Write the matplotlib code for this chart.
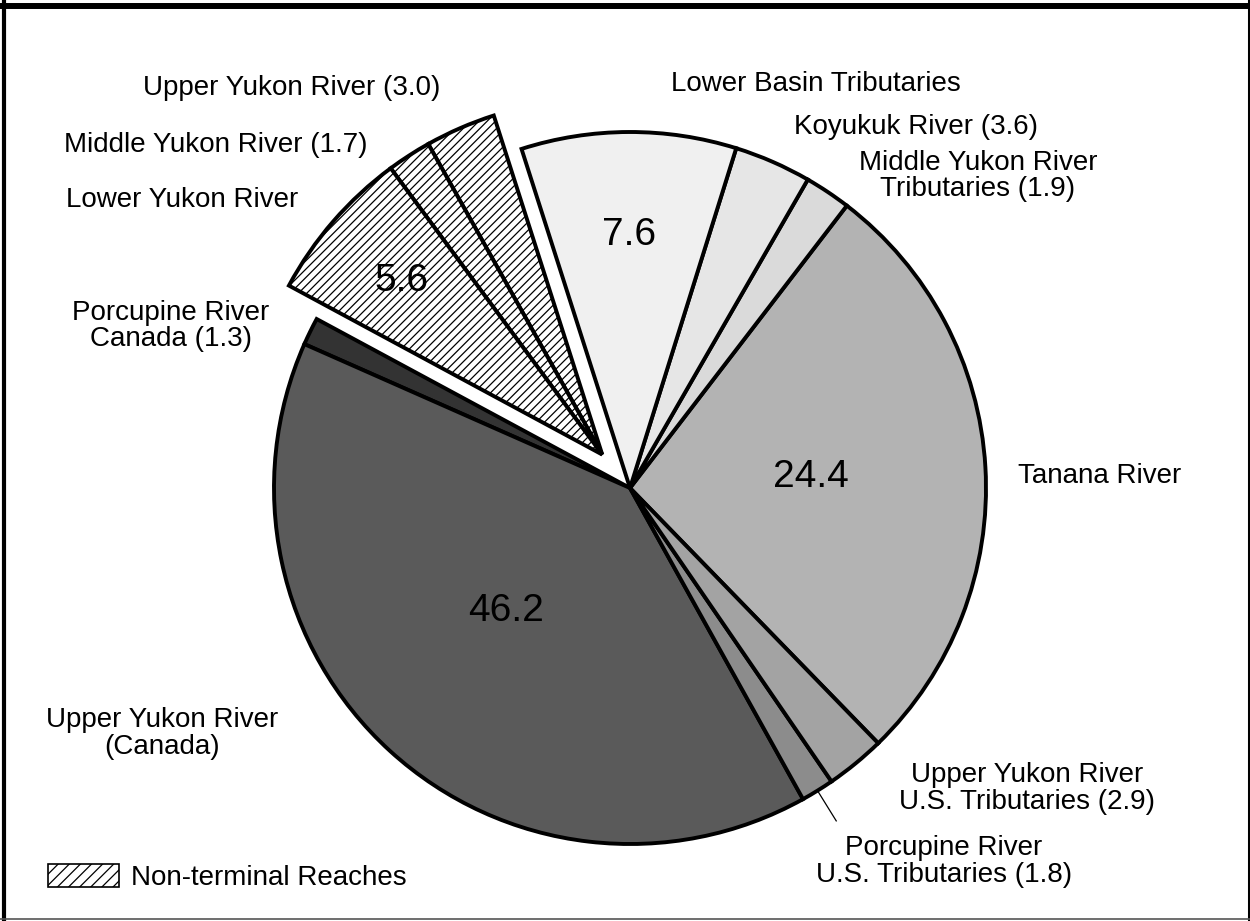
import numpy as np
import matplotlib
matplotlib.use("Agg")
import matplotlib.pyplot as plt
from matplotlib.patches import Patch

plt.rcParams['font.family'] = ['Liberation Sans', 'DejaVu Sans']
plt.rcParams['hatch.linewidth'] = 0.9

# wedges, counter-clockwise starting at the Tanana River wedge
reaches = ["Tanana River", "Middle Yukon River Tributaries", "Koyukuk River",
           "Lower Basin Tributaries", "Upper Yukon River", "Middle Yukon River",
           "Lower Yukon River", "Porcupine River Canada", "Upper Yukon River (Canada)",
           "Porcupine River U.S. Tributaries", "Upper Yukon River U.S. Tributaries"]
# percentages printed on the chart
shown_pct = [24.4, 1.9, 3.6, 7.6, 3.0, 1.7, 5.6, 1.3, 46.2, 1.8, 2.9]
# share of the circle each wedge takes in the drawing (read off the wedge angles,
# the original is not drawn to scale with the printed numbers)
wedge_pct = [27.3, 2.1, 3.5, 9.75, 3.2, 2.0, 7.0, 1.25, 39.7, 1.5, 2.7]
non_terminal = [False, False, False, False, True, True, True, False, False, False, False]
grays = ["#b3b3b3", "#dadada", "#e6e6e6", "#f0f0f0", "white", "white", "white",
         "#333333", "#5a5a5a", "#8c8c8c", "#a3a3a3"]

outer_labels = ["Upper Yukon River (3.0)", "Middle Yukon River (1.7)", "Lower Yukon River",
                "Porcupine River\nCanada (1.3)", "Lower Basin Tributaries",
                "Koyukuk River (3.6)", "Middle Yukon River\nTributaries (1.9)",
                "Tanana River", "Upper Yukon River\nU.S. Tributaries (2.9)",
                "Porcupine River\nU.S. Tributaries (1.8)", "Upper Yukon River\n(Canada)"]

W, H = 1250, 921
# layout in pixels (y measured from top)
label_pos = [(292, 88), (216, 145), (182, 200), (171, 326), (816, 84), (916, 127),
             (978, 176), (1100, 476), (1027, 788), (944, 861), (162, 733)]
# wedge index -> (radial spot, angle nudge in degrees) of the printed number
inner_spot = {0: (0.51, 0), 3: (0.71, 0), 6: (0.745, 0), 8: (0.49, -3)}
cx, cy, R = 630, H - 488, 356


def px(x, y):
    return x, H - y


fig = plt.figure(figsize=(12.5, 9.21), dpi=100)
ax = fig.add_axes([0, 0, 1, 1])

wedges, _ = ax.pie(wedge_pct, startangle=-45.8, counterclock=True, center=(cx, cy),
                   radius=R, colors=grays,
                   wedgeprops=dict(edgecolor="black", linewidth=2.8))
ax.set_xlim(0, W)
ax.set_ylim(0, H)
ax.set_aspect("auto")
ax.axis("off")

# the non-terminal reaches are pulled out together along their common mid angle
idx = [i for i, f in enumerate(non_terminal) if f]
mid = np.deg2rad((wedges[idx[0]].theta1 + wedges[idx[-1]].theta2) / 2)
shift = 0.122 * R
for i in idx:
    wedges[i].set_hatch("////")
    wedges[i].set_center((cx + shift * np.cos(mid), cy + shift * np.sin(mid)))

for i, (r, nudge) in inner_spot.items():
    w = wedges[i]
    a = np.deg2rad((w.theta1 + w.theta2) / 2 + nudge)
    x0, y0 = w.center
    ax.text(x0 + r * R * np.cos(a), y0 + r * R * np.sin(a), f"{shown_pct[i]}",
            ha="center", va="center", fontsize=28)

for txt, (x, y) in zip(outer_labels, label_pos):
    ax.text(*px(x, y), txt, ha="center", va="center", fontsize=20,
            multialignment="center", linespacing=1.05)

# leader line for the Porcupine U.S. wedge
w = wedges[9]
a = np.deg2rad((w.theta1 + w.theta2) / 2)
ax.plot([cx + 1.0 * R * np.cos(a), cx + 1.1 * R * np.cos(a)],
        [cy + 1.0 * R * np.sin(a), cy + 1.1 * R * np.sin(a)], color="black", lw=0.9)

leg = fig.legend(handles=[Patch(facecolor="white", edgecolor="black", hatch="///", lw=1.2)],
                 labels=["Non-terminal Reaches"], loc="lower left",
                 bbox_to_anchor=(48 / W, 30 / H), frameon=False, fontsize=20,
                 handlelength=2.55, handleheight=0.9, handletextpad=0.43,
                 borderpad=0, borderaxespad=0)

# page frame
ax.plot(*zip(px(0, 6.5), px(W, 6.5)), color="black", lw=4.3, clip_on=False)
ax.plot(*zip(px(4, 0), px(4, H)), color="black", lw=3, clip_on=False)
ax.plot(*zip(px(W - 1.5, 0), px(W - 1.5, H)), color="black", lw=2.2, clip_on=False)
ax.plot(*zip(px(0, 919), px(W, 919)), color="#555555", lw=1.2, clip_on=False)

fig.savefig("out.png", dpi=100)
